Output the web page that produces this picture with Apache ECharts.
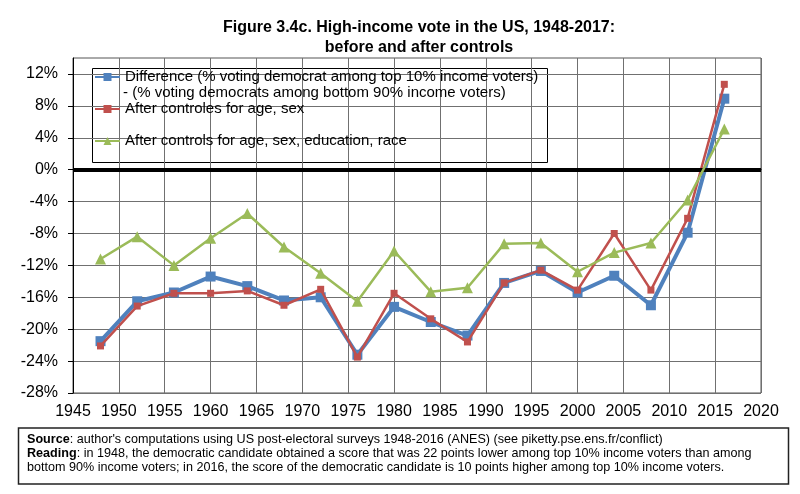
<!DOCTYPE html>
<html>
<head>
<meta charset="utf-8">
<script src="https://cdn.jsdelivr.net/npm/echarts@6.0.0/dist/echarts.min.js"></script>
<style>
  html, body { margin: 0; padding: 0; background: #fff; }
  #chart { width: 800px; height: 494px; }
</style>
</head>
<body>
<div id="chart"></div>
<script>
// election years
var years = [1948, 1952, 1956, 1960, 1964, 1968, 1972, 1976, 1980, 1984,
             1988, 1992, 1996, 2000, 2004, 2008, 2012, 2016];

// raw difference, top 10% minus bottom 90% (points)
var diffVals = [-21.5, -16.5, -15.4, -13.4, -14.6, -16.4, -16.0, -23.2, -17.2, -19.1,
                -20.8, -14.2, -12.7, -15.4, -13.3, -17.0, -7.9, 8.9];
// after controls for age, sex
var ageSexVals = [-22.1, -17.1, -15.5, -15.5, -15.2, -17.0, -15.0, -23.5, -15.5, -18.7,
                  -21.6, -14.2, -12.6, -15.1, -8.0, -15.1, -6.1, 10.7];
// after controls for age, sex, education, race
var fullVals = [-11.2, -8.4, -12.0, -8.6, -5.5, -9.7, -13.0, -16.5, -10.2, -15.3,
                -14.8, -9.3, -9.2, -12.8, -10.4, -9.2, -3.8, 5.1];

var yTicks = [-28, -24, -20, -16, -12, -8, -4, 0, 4, 8, 12];

var nameDiff = 'Difference (% voting democrat among top 10% income voters)';
var nameAgeSex = 'After controles for age, sex';
var nameFull = 'After controls for age, sex, education, race';

var FONT = '"Liberation Sans", Arial, sans-serif';

var pairs = function (vals) {
    return years.map(function (y, i) { return [y, vals[i]]; });
};

var chart = echarts.init(document.getElementById('chart'));

var legendBase = function (name, top) {
    return {
        data: [name],
        left: 94,
        top: top,
        orient: 'vertical',
        itemWidth: 25,
        itemHeight: 10,
        itemGap: 0,
        padding: 0,
        selectedMode: false,
        textStyle: { fontFamily: FONT, fontSize: 15, color: '#000', lineHeight: 16 }
    };
};

var footStyle = function (txt, y) {
    return {
        type: 'text', x: 27, y: y, z: 10,
        style: {
            text: txt,
            fontFamily: FONT, fontSize: 12.6, fill: '#000', verticalAlign: 'middle',
            rich: { b: { fontFamily: FONT, fontSize: 12.6, fontWeight: 'bold', fill: '#000' } }
        }
    };
};

var option = {
    animation: false,
    backgroundColor: '#fff',
    textStyle: { fontFamily: FONT },
    grid: {
        left: 73, right: 39, top: 58, bottom: 101,
        show: true, borderColor: '#555', borderWidth: 1
    },
    legend: [
        legendBase(nameDiff, 69),
        legendBase(nameAgeSex, 101),
        legendBase(nameFull, 133)
    ],
    xAxis: {
        type: 'value',
        min: 1945, max: 2020, interval: 5,
        axisLine: { lineStyle: { color: '#000', width: 1 } },
        axisTick: { show: false },
        axisLabel: {
            color: '#000', fontSize: 16, margin: 11, fontFamily: FONT,
            formatter: function (v) { return String(v); }
        },
        splitLine: { show: true, lineStyle: { color: '#707070', width: 1 } }
    },
    yAxis: {
        type: 'value',
        min: -28, max: 14, interval: 4,
        axisLine: { show: true, lineStyle: { color: '#000', width: 1 } },
        axisTick: { show: true, length: 5, lineStyle: { color: '#000' }, customValues: yTicks },
        axisLabel: {
            color: '#000', fontSize: 16, margin: 15, fontFamily: FONT,
            customValues: yTicks,
            formatter: function (v) { return v + '%'; }
        },
        splitLine: { show: true, lineStyle: { color: '#707070', width: 1 } }
    },
    graphic: [
        {
            type: 'text', x: 419, y: 38, z: 10,
            style: {
                text: 'Figure 3.4c. High-income vote in the US, 1948-2017:\nbefore and after controls',
                fontFamily: FONT, fontSize: 16, fontWeight: 'bold', fill: '#000',
                align: 'center', verticalAlign: 'middle', lineHeight: 20
            }
        },
        {
            type: 'rect', z: 0, silent: true,
            shape: { x: 92.5, y: 68.5, width: 455, height: 94 },
            style: { fill: '#fff', stroke: '#000', lineWidth: 1 }
        },
        {
            type: 'text', x: 123, y: 93, z: 10,
            style: {
                text: '- (% voting democrats among bottom 90% income voters)',
                fontFamily: FONT, fontSize: 15, fill: '#000', verticalAlign: 'middle'
            }
        },
        {
            type: 'rect', z: 0, silent: true,
            shape: { x: 18.5, y: 428, width: 770, height: 56 },
            style: { fill: '#fff', stroke: '#222', lineWidth: 1.5 }
        },
        footStyle('{b|Source}: author\'s computations using US post-electoral surveys 1948-2016 (ANES) (see piketty.pse.ens.fr/conflict)', 440),
        footStyle('{b|Reading}: in 1948, the democratic candidate obtained a score that was 22 points lower among top 10% income voters than among', 454),
        footStyle('bottom 90% income voters; in 2016, the score of the democratic candidate is 10 points higher among top 10% income voters.', 468)
    ],
    series: [
        {
            // zero reference line
            type: 'line', data: [], z: 1, silent: true,
            markLine: {
                silent: true, symbol: 'none', label: { show: false },
                lineStyle: { color: '#000', width: 4, type: 'solid' },
                data: [{ yAxis: 0 }]
            }
        },
        {
            name: nameDiff, type: 'line', z: 3,
            data: pairs(diffVals),
            symbol: 'rect', symbolSize: 10,
            itemStyle: { color: '#4F81BD' },
            lineStyle: { color: '#4F81BD', width: 4 }
        },
        {
            name: nameAgeSex, type: 'line', z: 4,
            data: pairs(ageSexVals),
            symbol: 'rect', symbolSize: 7,
            itemStyle: { color: '#C0504D' },
            lineStyle: { color: '#C0504D', width: 2.5 }
        },
        {
            name: nameFull, type: 'line', z: 5,
            data: pairs(fullVals),
            symbol: 'triangle', symbolSize: 11,
            itemStyle: { color: '#9BBB59' },
            lineStyle: { color: '#9BBB59', width: 2.5 }
        }
    ]
};

chart.setOption(option);
</script>
</body>
</html>
